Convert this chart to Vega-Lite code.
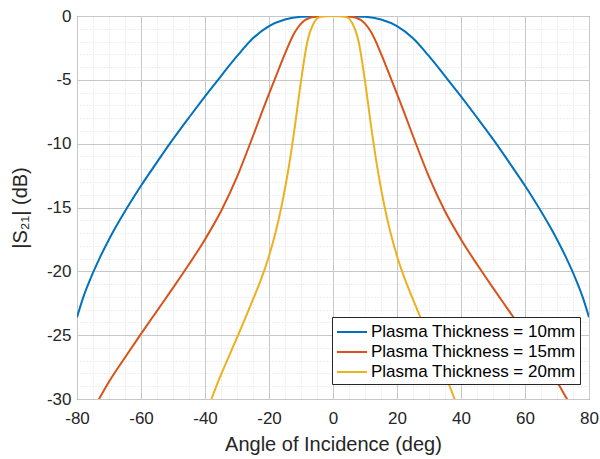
{
  "$schema": "https://vega.github.io/schema/vega-lite/v6.json",
  "width": 512,
  "height": 383,
  "autosize": {"type": "none"},
  "padding": {"left": 77, "top": 16, "right": 11, "bottom": 60},
  "background": "white",
  "config": {
    "font": "Liberation Sans",
    "view": {"stroke": "#404040", "strokeWidth": 1}
  },
  "data": {
    "values": [
      {"a": -80, "db": -23.6, "s": "Plasma Thickness = 10mm"},
      {"a": -78, "db": -22.0, "s": "Plasma Thickness = 10mm"},
      {"a": -76, "db": -20.7, "s": "Plasma Thickness = 10mm"},
      {"a": -73, "db": -19.0, "s": "Plasma Thickness = 10mm"},
      {"a": -70, "db": -17.5, "s": "Plasma Thickness = 10mm"},
      {"a": -65, "db": -15.3, "s": "Plasma Thickness = 10mm"},
      {"a": -60, "db": -13.3, "s": "Plasma Thickness = 10mm"},
      {"a": -55, "db": -11.45, "s": "Plasma Thickness = 10mm"},
      {"a": -50, "db": -9.65, "s": "Plasma Thickness = 10mm"},
      {"a": -45, "db": -7.95, "s": "Plasma Thickness = 10mm"},
      {"a": -40, "db": -6.3, "s": "Plasma Thickness = 10mm"},
      {"a": -35, "db": -4.7, "s": "Plasma Thickness = 10mm"},
      {"a": -30, "db": -3.15, "s": "Plasma Thickness = 10mm"},
      {"a": -25, "db": -1.75, "s": "Plasma Thickness = 10mm"},
      {"a": -20, "db": -0.8, "s": "Plasma Thickness = 10mm"},
      {"a": -15, "db": -0.28, "s": "Plasma Thickness = 10mm"},
      {"a": -10, "db": -0.06, "s": "Plasma Thickness = 10mm"},
      {"a": -5, "db": -0.01, "s": "Plasma Thickness = 10mm"},
      {"a": 0, "db": 0, "s": "Plasma Thickness = 10mm"},
      {"a": 5, "db": -0.01, "s": "Plasma Thickness = 10mm"},
      {"a": 10, "db": -0.06, "s": "Plasma Thickness = 10mm"},
      {"a": 15, "db": -0.28, "s": "Plasma Thickness = 10mm"},
      {"a": 20, "db": -0.8, "s": "Plasma Thickness = 10mm"},
      {"a": 25, "db": -1.75, "s": "Plasma Thickness = 10mm"},
      {"a": 30, "db": -3.15, "s": "Plasma Thickness = 10mm"},
      {"a": 35, "db": -4.7, "s": "Plasma Thickness = 10mm"},
      {"a": 40, "db": -6.3, "s": "Plasma Thickness = 10mm"},
      {"a": 45, "db": -7.95, "s": "Plasma Thickness = 10mm"},
      {"a": 50, "db": -9.65, "s": "Plasma Thickness = 10mm"},
      {"a": 55, "db": -11.45, "s": "Plasma Thickness = 10mm"},
      {"a": 60, "db": -13.3, "s": "Plasma Thickness = 10mm"},
      {"a": 65, "db": -15.3, "s": "Plasma Thickness = 10mm"},
      {"a": 70, "db": -17.5, "s": "Plasma Thickness = 10mm"},
      {"a": 73, "db": -19.0, "s": "Plasma Thickness = 10mm"},
      {"a": 76, "db": -20.7, "s": "Plasma Thickness = 10mm"},
      {"a": 78, "db": -22.0, "s": "Plasma Thickness = 10mm"},
      {"a": 80, "db": -23.6, "s": "Plasma Thickness = 10mm"},

      {"a": -76, "db": -31.3, "s": "Plasma Thickness = 15mm"},
      {"a": -73, "db": -29.95, "s": "Plasma Thickness = 15mm"},
      {"a": -70, "db": -28.65, "s": "Plasma Thickness = 15mm"},
      {"a": -65, "db": -26.75, "s": "Plasma Thickness = 15mm"},
      {"a": -60, "db": -24.9, "s": "Plasma Thickness = 15mm"},
      {"a": -55, "db": -23.1, "s": "Plasma Thickness = 15mm"},
      {"a": -50, "db": -21.3, "s": "Plasma Thickness = 15mm"},
      {"a": -45, "db": -19.45, "s": "Plasma Thickness = 15mm"},
      {"a": -40, "db": -17.5, "s": "Plasma Thickness = 15mm"},
      {"a": -35, "db": -15.3, "s": "Plasma Thickness = 15mm"},
      {"a": -30, "db": -12.6, "s": "Plasma Thickness = 15mm"},
      {"a": -25, "db": -9.4, "s": "Plasma Thickness = 15mm"},
      {"a": -22, "db": -7.4, "s": "Plasma Thickness = 15mm"},
      {"a": -20, "db": -6.1, "s": "Plasma Thickness = 15mm"},
      {"a": -17, "db": -4.2, "s": "Plasma Thickness = 15mm"},
      {"a": -15, "db": -2.95, "s": "Plasma Thickness = 15mm"},
      {"a": -12, "db": -1.3, "s": "Plasma Thickness = 15mm"},
      {"a": -10, "db": -0.6, "s": "Plasma Thickness = 15mm"},
      {"a": -7, "db": -0.12, "s": "Plasma Thickness = 15mm"},
      {"a": -4, "db": -0.01, "s": "Plasma Thickness = 15mm"},
      {"a": 0, "db": 0, "s": "Plasma Thickness = 15mm"},
      {"a": 4, "db": -0.01, "s": "Plasma Thickness = 15mm"},
      {"a": 7, "db": -0.12, "s": "Plasma Thickness = 15mm"},
      {"a": 10, "db": -0.6, "s": "Plasma Thickness = 15mm"},
      {"a": 12, "db": -1.3, "s": "Plasma Thickness = 15mm"},
      {"a": 15, "db": -2.95, "s": "Plasma Thickness = 15mm"},
      {"a": 17, "db": -4.2, "s": "Plasma Thickness = 15mm"},
      {"a": 20, "db": -6.1, "s": "Plasma Thickness = 15mm"},
      {"a": 22, "db": -7.4, "s": "Plasma Thickness = 15mm"},
      {"a": 25, "db": -9.4, "s": "Plasma Thickness = 15mm"},
      {"a": 30, "db": -12.6, "s": "Plasma Thickness = 15mm"},
      {"a": 35, "db": -15.3, "s": "Plasma Thickness = 15mm"},
      {"a": 40, "db": -17.5, "s": "Plasma Thickness = 15mm"},
      {"a": 45, "db": -19.45, "s": "Plasma Thickness = 15mm"},
      {"a": 50, "db": -21.3, "s": "Plasma Thickness = 15mm"},
      {"a": 55, "db": -23.1, "s": "Plasma Thickness = 15mm"},
      {"a": 60, "db": -24.9, "s": "Plasma Thickness = 15mm"},
      {"a": 65, "db": -26.75, "s": "Plasma Thickness = 15mm"},
      {"a": 70, "db": -28.65, "s": "Plasma Thickness = 15mm"},
      {"a": 73, "db": -29.95, "s": "Plasma Thickness = 15mm"},
      {"a": 76, "db": -31.3, "s": "Plasma Thickness = 15mm"},

      {"a": -40, "db": -31.3, "s": "Plasma Thickness = 20mm"},
      {"a": -38, "db": -30.0, "s": "Plasma Thickness = 20mm"},
      {"a": -35, "db": -28.1, "s": "Plasma Thickness = 20mm"},
      {"a": -30, "db": -25.2, "s": "Plasma Thickness = 20mm"},
      {"a": -25, "db": -22.2, "s": "Plasma Thickness = 20mm"},
      {"a": -22, "db": -20.3, "s": "Plasma Thickness = 20mm"},
      {"a": -20, "db": -18.8, "s": "Plasma Thickness = 20mm"},
      {"a": -18, "db": -17.0, "s": "Plasma Thickness = 20mm"},
      {"a": -16, "db": -14.8, "s": "Plasma Thickness = 20mm"},
      {"a": -14, "db": -12.1, "s": "Plasma Thickness = 20mm"},
      {"a": -12, "db": -8.8, "s": "Plasma Thickness = 20mm"},
      {"a": -10, "db": -5.1, "s": "Plasma Thickness = 20mm"},
      {"a": -8, "db": -2.0, "s": "Plasma Thickness = 20mm"},
      {"a": -6, "db": -0.55, "s": "Plasma Thickness = 20mm"},
      {"a": -4, "db": -0.07, "s": "Plasma Thickness = 20mm"},
      {"a": -2, "db": 0, "s": "Plasma Thickness = 20mm"},
      {"a": 0, "db": 0, "s": "Plasma Thickness = 20mm"},
      {"a": 2, "db": 0, "s": "Plasma Thickness = 20mm"},
      {"a": 4, "db": -0.07, "s": "Plasma Thickness = 20mm"},
      {"a": 6, "db": -0.55, "s": "Plasma Thickness = 20mm"},
      {"a": 8, "db": -2.0, "s": "Plasma Thickness = 20mm"},
      {"a": 10, "db": -5.1, "s": "Plasma Thickness = 20mm"},
      {"a": 12, "db": -8.8, "s": "Plasma Thickness = 20mm"},
      {"a": 14, "db": -12.1, "s": "Plasma Thickness = 20mm"},
      {"a": 16, "db": -14.8, "s": "Plasma Thickness = 20mm"},
      {"a": 18, "db": -17.0, "s": "Plasma Thickness = 20mm"},
      {"a": 20, "db": -18.8, "s": "Plasma Thickness = 20mm"},
      {"a": 22, "db": -20.3, "s": "Plasma Thickness = 20mm"},
      {"a": 25, "db": -22.2, "s": "Plasma Thickness = 20mm"},
      {"a": 30, "db": -25.2, "s": "Plasma Thickness = 20mm"},
      {"a": 35, "db": -28.1, "s": "Plasma Thickness = 20mm"},
      {"a": 38, "db": -30.0, "s": "Plasma Thickness = 20mm"},
      {"a": 40, "db": -31.3, "s": "Plasma Thickness = 20mm"}
    ]
  },
  "mark": {"type": "line", "clip": true, "strokeWidth": 2, "interpolate": "monotone"},
  "encoding": {
    "x": {
      "field": "a",
      "type": "quantitative",
      "scale": {"domain": [-80, 80], "nice": false, "zero": false},
      "axis": {
        "title": "Angle of Incidence (deg)",
        "values": [-80,-75,-70,-65,-60,-55,-50,-45,-40,-35,-30,-25,-20,-15,-10,-5,0,5,10,15,20,25,30,35,40,45,50,55,60,65,70,75,80],
        "labelExpr": "datum.value % 20 === 0 ? '' + datum.value : ''",
        "labelOverlap": false,
        "labelFlush": false,
        "labelFontSize": 17,
        "labelColor": "#262626",
        "labelPadding": 11,
        "ticks": false,
        "domain": false,
        "grid": true,
        "gridColor": {"condition": {"test": "datum.value % 20 === 0", "value": "#c8c8c8"}, "value": "#dedede"},
        "gridDash": {"condition": {"test": "datum.value % 20 === 0", "value": []}, "value": [1, 2]},
        "gridWidth": 1,
        "titleFontSize": 20,
        "titleFontWeight": "normal",
        "titleColor": "#262626",
        "titlePadding": 8
      }
    },
    "y": {
      "field": "db",
      "type": "quantitative",
      "scale": {"domain": [-30, 0], "nice": false, "zero": false},
      "axis": {
        "title": "|S₂₁| (dB)",
        "values": [-30,-29,-28,-27,-26,-25,-24,-23,-22,-21,-20,-19,-18,-17,-16,-15,-14,-13,-12,-11,-10,-9,-8,-7,-6,-5,-4,-3,-2,-1,0],
        "labelExpr": "datum.value % 5 === 0 ? '' + datum.value : ''",
        "labelOverlap": false,
        "labelFlush": false,
        "labelFontSize": 17,
        "labelColor": "#262626",
        "labelPadding": 6,
        "ticks": false,
        "domain": false,
        "grid": true,
        "gridColor": {"condition": {"test": "datum.value % 5 === 0", "value": "#c8c8c8"}, "value": "#dedede"},
        "gridDash": {"condition": {"test": "datum.value % 5 === 0", "value": []}, "value": [1, 2]},
        "gridWidth": 1,
        "titleFontSize": 20,
        "titleFontWeight": "normal",
        "titleColor": "#262626",
        "titlePadding": 16
      }
    },
    "color": {
      "field": "s",
      "type": "nominal",
      "scale": {
        "domain": ["Plasma Thickness = 10mm", "Plasma Thickness = 15mm", "Plasma Thickness = 20mm"],
        "range": ["#0072BD", "#D95319", "#EDB120"]
      },
      "legend": {
        "title": null,
        "orient": "none",
        "legendX": 255,
        "legendY": 301,
        "fillColor": "white",
        "strokeColor": "#262626",
        "padding": 4,
        "rowPadding": 1,
        "symbolType": "M-1.5,0H1.5",
        "symbolSize": 400,
        "symbolOffset": 5,
        "symbolStrokeWidth": 2,
        "labelFontSize": 17,
        "labelColor": "#000000",
        "labelOffset": 8,
        "labelLimit": 400
      }
    }
  }
}
